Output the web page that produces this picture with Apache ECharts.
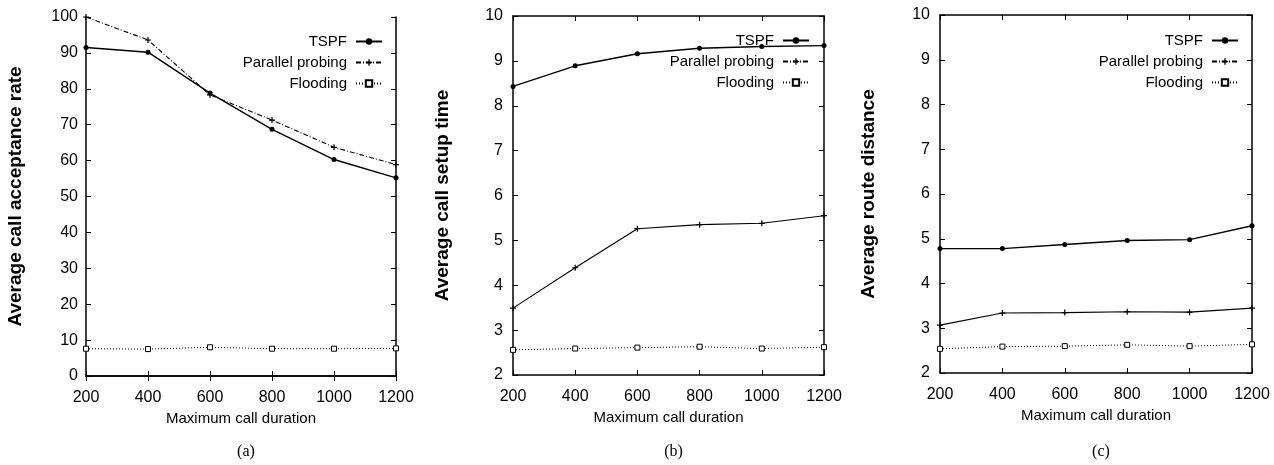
<!DOCTYPE html>
<html><head><meta charset="utf-8">
<script src="https://cdn.jsdelivr.net/npm/echarts@6/dist/echarts.min.js"></script>
<style>html,body{margin:0;padding:0;background:#fff}#c{width:1274px;height:465px}</style>
</head><body><div id="c"></div>
<script>
// ---- data ----
const xValues = [200, 400, 600, 800, 1000, 1200];
const seriesNames = ['TSPF', 'Parallel probing', 'Flooding'];
const accTSPF  = [91.5, 90.2, 78.8, 68.7, 60.3, 55.2];
const accPP    = [100, 93.6, 78.3, 71.3, 63.7, 58.9];
const accFlood = [7.6, 7.5, 8.0, 7.6, 7.6, 7.7];
const setupTSPF  = [8.43, 8.89, 9.16, 9.28, 9.32, 9.34];
const setupPP    = [3.49, 4.39, 5.26, 5.35, 5.38, 5.55];
const setupFlood = [2.56, 2.59, 2.61, 2.63, 2.59, 2.62];
const distTSPF  = [4.78, 4.78, 4.87, 4.96, 4.98, 5.29];
const distPP    = [3.07, 3.34, 3.35, 3.37, 3.36, 3.45];
const distFlood = [2.54, 2.59, 2.60, 2.63, 2.60, 2.64];
const yTitles = ['Average call acceptance rate', 'Average call setup time', 'Average route distance'];
const xTitle = 'Maximum call duration';
const captions = ['(a)', '(b)', '(c)'];
const yRanges = [[0, 100, 10], [2, 10, 1], [2, 10, 1]];

// ---- layout ----
const W = 1274;
const panels = [
  { left: 86, top: 17, width: 310, height: 359, data: [accTSPF, accPP, accFlood], ppDash: true, legRight: 383, legTop: 43, labelMargin: 8, nameGap: 61 },
  { left: 513, top: 16, width: 311, height: 359, data: [setupTSPF, setupPP, setupFlood], ppDash: false, legRight: 810, legTop: 42, labelMargin: 10, nameGap: 61 },
  { left: 940, top: 15, width: 312, height: 358, data: [distTSPF, distPP, distFlood], ppDash: false, legRight: 1239, legTop: 42, labelMargin: 10, nameGap: 62 }
];
const tickFont = "'Liberation Sans', Arial, sans-serif";
const black = '#000';
const plusPath = 'path://M4,0h2v4h4v2h-4v4h-2v-4h-4v-2h4z';
const fmt = v => String(v);

const grid = [], xAxis = [], yAxis = [], series = [], legend = [], title = [];
panels.forEach((p, i) => {
  grid.push({ left: p.left, top: p.top, width: p.width, height: p.height, containLabel: false });
  const axLine = { show: true, lineStyle: { color: black, width: 1.5 } };
  const tick = { show: true, inside: true, length: 5, lineStyle: { color: black, width: 1 } };
  xAxis.push({
    type: 'value', gridIndex: i, min: 200, max: 1200, interval: 200, position: 'bottom',
    axisLine: axLine, axisTick: tick, splitLine: { show: false },
    axisLabel: { color: black, fontFamily: tickFont, fontSize: 16, margin: 14, formatter: fmt },
    name: xTitle, nameLocation: 'middle', nameGap: 33,
    nameTextStyle: { color: black, fontFamily: tickFont, fontSize: 15 }
  });
  xAxis.push({
    type: 'value', gridIndex: i, min: 200, max: 1200, interval: 200, position: 'top',
    axisLine: axLine, axisTick: tick, splitLine: { show: false }, axisLabel: { show: false }
  });
  const [ymin, ymax, yint] = yRanges[i];
  yAxis.push({
    type: 'value', gridIndex: i, min: ymin, max: ymax, interval: yint, position: 'left',
    axisLine: axLine, axisTick: tick, splitLine: { show: false },
    axisLabel: { color: black, fontFamily: tickFont, fontSize: 16, margin: p.labelMargin, formatter: fmt },
    name: yTitles[i], nameLocation: 'middle', nameGap: p.nameGap, nameRotate: 90,
    nameTextStyle: { color: black, fontFamily: "'Liberation Sans', Arial, sans-serif", fontWeight: 'bold', fontSize: 19 }
  });
  yAxis.push({
    type: 'value', gridIndex: i, min: ymin, max: ymax, interval: yint, position: 'right',
    axisLine: axLine, axisTick: tick, splitLine: { show: false }, axisLabel: { show: false }
  });
  const styles = [
    { symbol: 'circle', symbolSize: 5, line: { type: 'solid', width: 1.4 }, item: { color: black } },
    { symbol: plusPath, symbolSize: 6, line: { type: p.ppDash ? [5, 2, 1, 2] : 'solid', width: 1.1 }, item: { color: black } },
    { symbol: 'rect', symbolSize: 5, line: { type: [1, 2], width: 1 }, item: { color: '#fff', borderColor: black, borderWidth: 1 } }
  ];
  seriesNames.forEach((nm, k) => {
    const arr = p.data[k];
    series.push({
      type: 'line', name: nm, xAxisIndex: 2 * i, yAxisIndex: 2 * i,
      data: xValues.map((x, j) => [x, arr[j]]),
      symbol: styles[k].symbol, symbolSize: styles[k].symbolSize, showSymbol: true,
      lineStyle: Object.assign({ color: black }, styles[k].line),
      itemStyle: styles[k].item, animation: false, silent: true
    });
    legend.push({
      data: [nm], right: W - p.legRight, top: p.legTop + k * 21 - 9, align: 'right', orient: 'vertical',
      itemWidth: 26, itemHeight: 8, selectedMode: false, padding: 0,
      textStyle: { color: black, fontFamily: tickFont, fontSize: 15, padding: [0, 4, 0, 0] }
    });
  });
  title.push({
    text: captions[i], left: p.left + p.width / 2, top: 439, textAlign: 'center',
    textStyle: { color: black, fontFamily: "'Liberation Serif', 'Times New Roman', serif", fontWeight: 'normal', fontSize: 16 }
  });
});

const chart = echarts.init(document.getElementById('c'), null, { renderer: 'canvas' });
chart.setOption({ animation: false, backgroundColor: '#fff', grid, xAxis, yAxis, series, legend, title });
</script>
</body></html>
